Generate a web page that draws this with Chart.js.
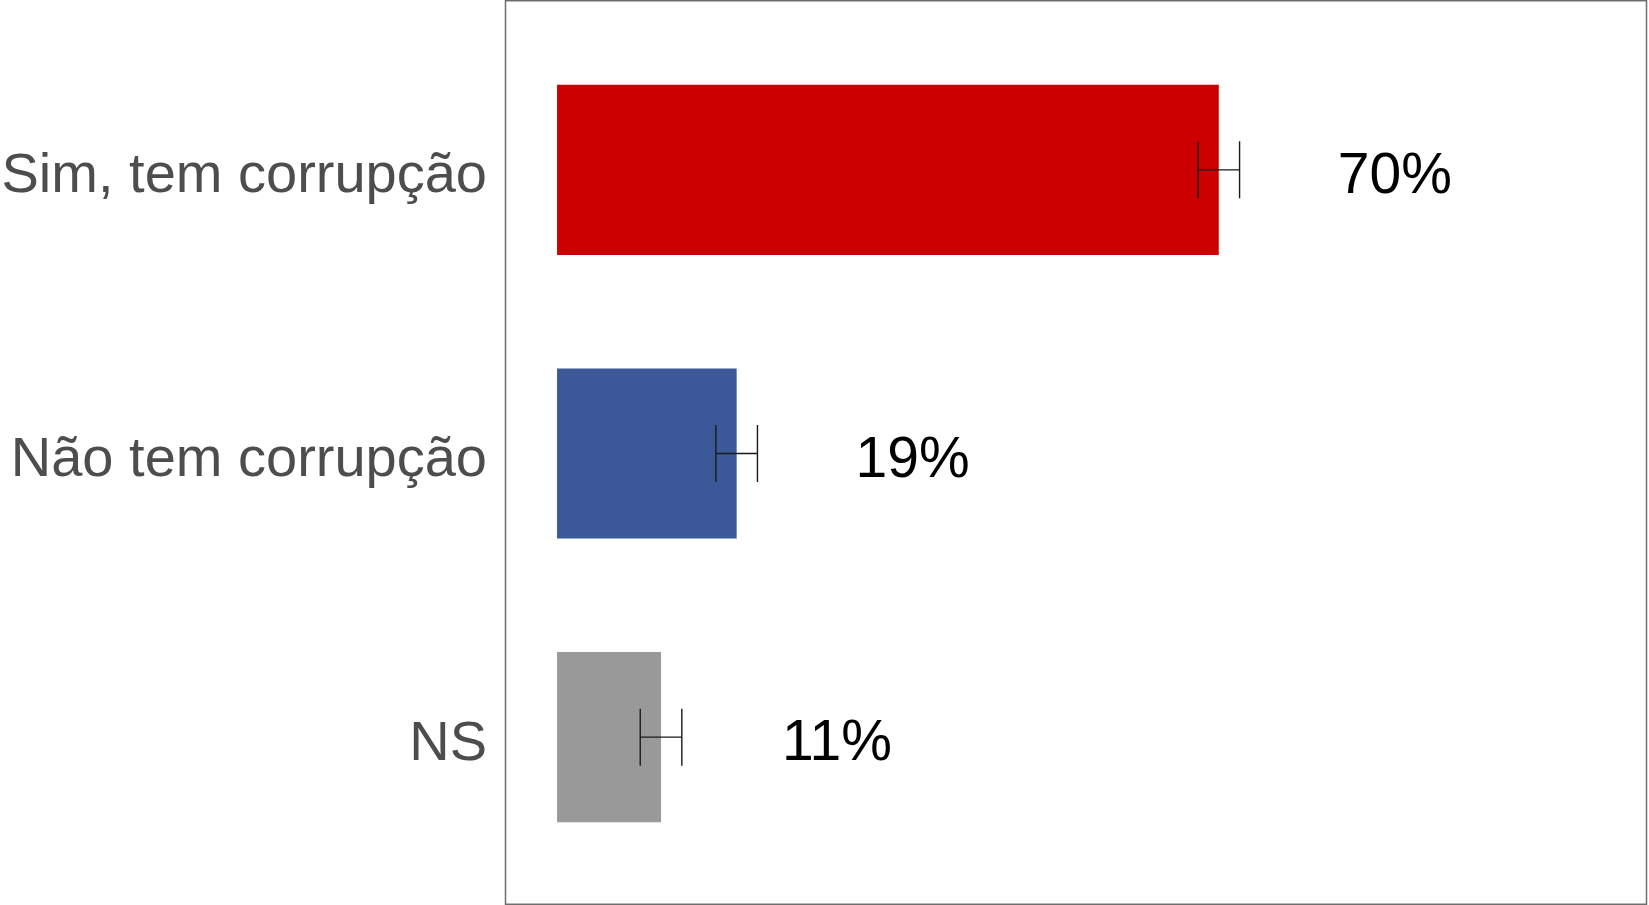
<!DOCTYPE html>
<html>
<head>
<meta charset="utf-8">
<script src="https://cdn.jsdelivr.net/npm/chart.js@4/dist/chart.umd.min.js"></script>
<style>
  html, body { margin: 0; padding: 0; background: #fff; }
  canvas { display: block; }
</style>
</head>
<body>
<canvas id="grafico" width="1649" height="905"></canvas>
<script>
// dados
const categorias = ['Sim, tem corrupção', 'Não tem corrupção', 'NS'];
const valores = [70, 19, 11];
const limInferior = [67.8, 16.8, 8.8];
const limSuperior = [72.2, 21.2, 13.2];
const rotulos = ['70%', '19%', '11%'];
const cores = ['#cc0000', '#3b5998', '#999999'];

// moldura do painel + barras de erro + rótulos
const extras = {
    id: 'extras',
    beforeDraw(chart) {
        const ctx = chart.ctx;
        ctx.save();
        ctx.strokeStyle = '#6e6e6e';
        ctx.lineWidth = 1.5;
        ctx.strokeRect(505.5, 0.75, chart.width - 2.5 - 505.5, chart.height - 1.5);
        ctx.restore();
    },
    afterDatasetsDraw(chart) {
        const ctx = chart.ctx;
        const x = chart.scales.x;
        const y = chart.scales.y;
        ctx.save();
        ctx.strokeStyle = '#1a1a1a';
        ctx.lineWidth = 1.4;
        categorias.forEach((c, i) => {
            const yc = y.getPixelForValue(i);
            const x0 = x.getPixelForValue(limInferior[i]);
            const x1 = x.getPixelForValue(limSuperior[i]);
            ctx.beginPath();
            ctx.moveTo(x0, yc - 28.5); ctx.lineTo(x0, yc + 28.5);
            ctx.moveTo(x1, yc - 28.5); ctx.lineTo(x1, yc + 28.5);
            ctx.moveTo(x0, yc); ctx.lineTo(x1, yc);
            ctx.stroke();
        });
        ctx.fillStyle = '#000';
        ctx.font = '57px "Liberation Sans", Arial, sans-serif';
        ctx.textAlign = 'center';
        ctx.textBaseline = 'alphabetic';
        categorias.forEach((c, i) => {
            const yc = y.getPixelForValue(i);
            ctx.fillText(rotulos[i], x.getPixelForValue(valores[i]) + 176, yc + 23);
        });
        ctx.restore();
    }
};

const grafico = new Chart(document.getElementById('grafico'), {
    type: 'bar',
    data: {
        labels: categorias,
        datasets: [{
            data: valores,
            backgroundColor: cores,
            borderWidth: 0,
            barPercentage: 0.6,
            categoryPercentage: 1
        }]
    },
    options: {
        indexAxis: 'y',
        responsive: false,
        animation: false,
        layout: { padding: { top: 28, bottom: 26, left: 0, right: 2 } },
        plugins: {
            legend: { display: false },
            tooltip: { enabled: false }
        },
        scales: {
            x: {
                display: false,
                min: -5.4,
                max: 115.3
            },
            y: {
                offset: true,
                grid: { display: false, drawTicks: false },
                border: { display: false },
                ticks: {
                    color: '#4d4d4d',
                    padding: 19,
                    labelOffset: 7,
                    font: { family: '"Liberation Sans", Arial, sans-serif', size: 56 }
                },
                afterFit(scale) {
                    scale.width = 506;
                    scale.paddingTop = 0;
                    scale.paddingBottom = 0;
                }
            }
        }
    },
    plugins: [extras]
});
</script>
</body>
</html>
